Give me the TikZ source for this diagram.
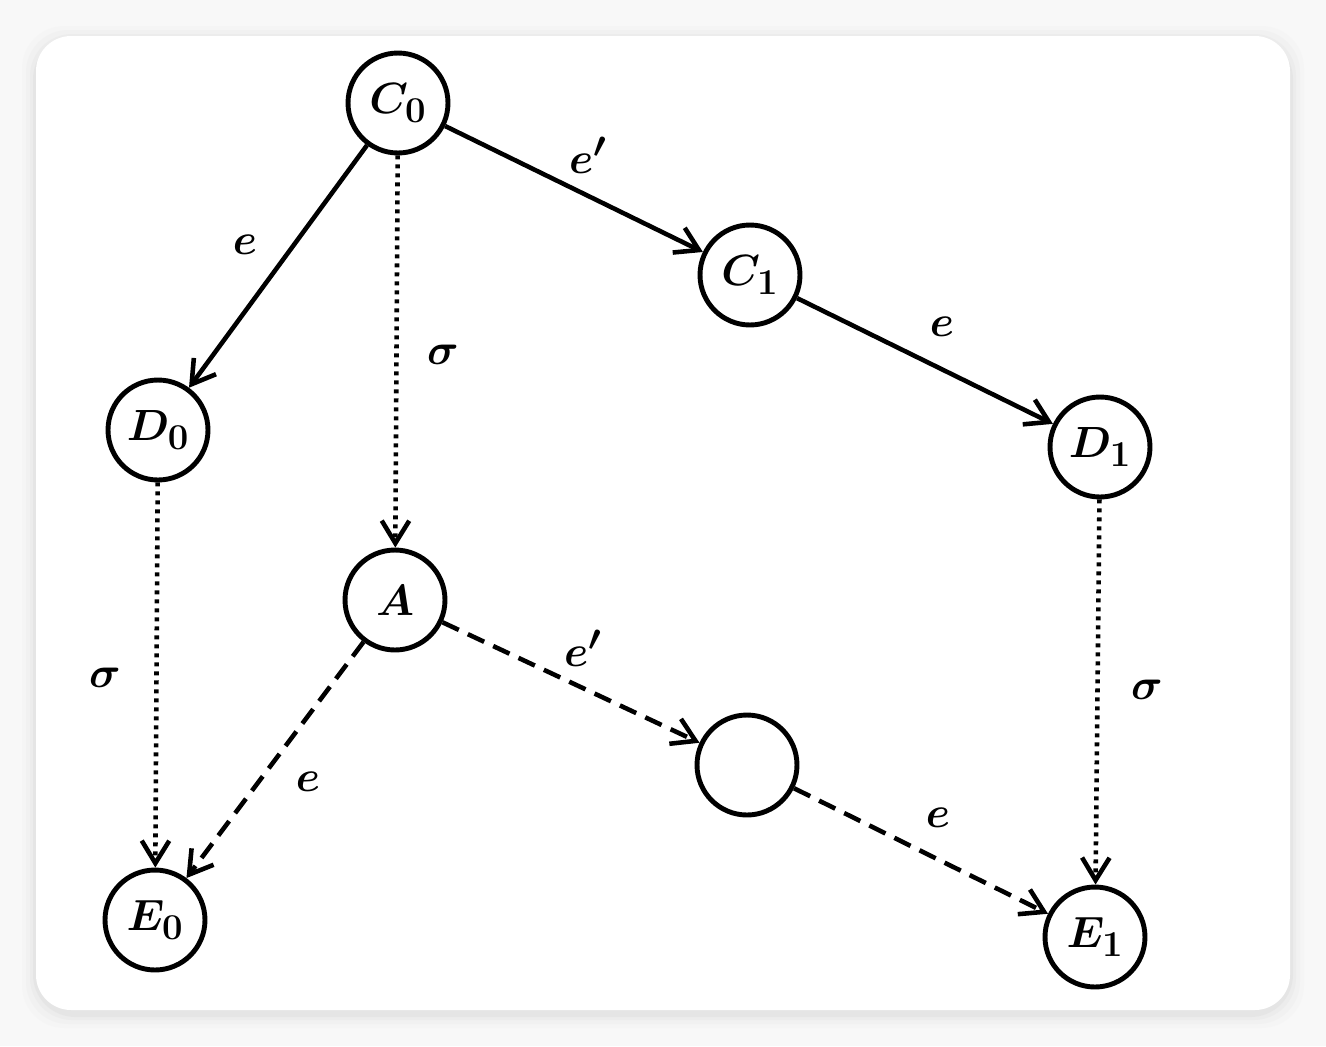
\documentclass[tikz,border=0pt]{standalone}
\usepackage{amsmath,amssymb,bm}
\usepackage{xcolor}
\usetikzlibrary{positioning,calc,arrows.meta}

\definecolor{pagebg}{HTML}{F8F8F8}
\definecolor{shadowgray}{HTML}{D4D4D4}

\tikzset{
  state/.style={circle, draw, line width=2.8pt, minimum size=2cm, inner sep=0pt,
    font=\fontsize{30}{34}\selectfont},
  lbl/.style={font=\fontsize{30}{34}\selectfont},
  arr/.style={line width=2.6pt, -{Straight Barb[length=0.45cm, width=0.55cm, line width=2.6pt]}},
  dots/.style={arr, dash pattern=on 0.08cm off 0.1cm},
  dashes/.style={arr, dash pattern=on 0.36cm off 0.2cm},
}

\begin{document}
\begin{tikzpicture}[x=0.02cm, y=-0.02cm]
    % page and card
    \useasboundingbox (0,0) rectangle (1326,1046);
    \fill[pagebg] (0,0) rectangle (1326,1046);
    \foreach \d/\o in {14/0.06, 10/0.1, 6/0.16, 3/0.25}
      \fill[shadowgray, opacity=\o, rounded corners=24] (36-\d,36-\d+4) rectangle (1290+\d,1010+\d+4);
    \fill[white, rounded corners=20] (36,36) rectangle (1290,1010);

    % states
    \node[state] (c0) at (398,103) {$\bm{C_0}$};
    \node[state] (c1) at (750,275) {$\bm{C_1}$};
    \node[state] (d0) at (158,430) {$\bm{D_0}$};
    \node[state] (d1) at (1100,447) {$\bm{D_1}$};
    \node[state] (a) at (395,600) {$\bm{A}$};
    \node[state] (m) at (747,765) {};
    \node[state] (e0) at (155,920) {$\bm{E_0}$};
    \node[state] (e1) at (1095,937) {$\bm{E_1}$};

    % solid edges
    \draw[arr] (c0) -- (c1);
    \draw[arr] (c0) -- (d0);
    \draw[arr] (c1) -- (d1);

    % dotted edges
    \draw[dots] (c0) -- (a);
    \draw[dots] (d0) -- (e0);
    \draw[dots] (d1) -- (e1);

    % dashed edges
    \draw[dashes] (a) -- (e0);
    \draw[dashes] (a) -- (m);
    \draw[dashes] (m) -- (e1);

    % labels
    \node[lbl] (l1) at (588,155) {$\bm{e'}$};
    \node[lbl] (l2) at (245,245) {$\bm{e}$};
    \node[lbl] (l3) at (443,355) {$\bm{\sigma}$};
    \node[lbl] (l4) at (942,327) {$\bm{e}$};
    \node[lbl] (l5) at (105,678) {$\bm{\sigma}$};
    \node[lbl] (l6) at (308,782) {$\bm{e}$};
    \node[lbl] (l7) at (583,648) {$\bm{e'}$};
    \node[lbl] (l8) at (938,818) {$\bm{e}$};
    \node[lbl] (l9) at (1147,690) {$\bm{\sigma}$};
\end{tikzpicture}
\end{document}
